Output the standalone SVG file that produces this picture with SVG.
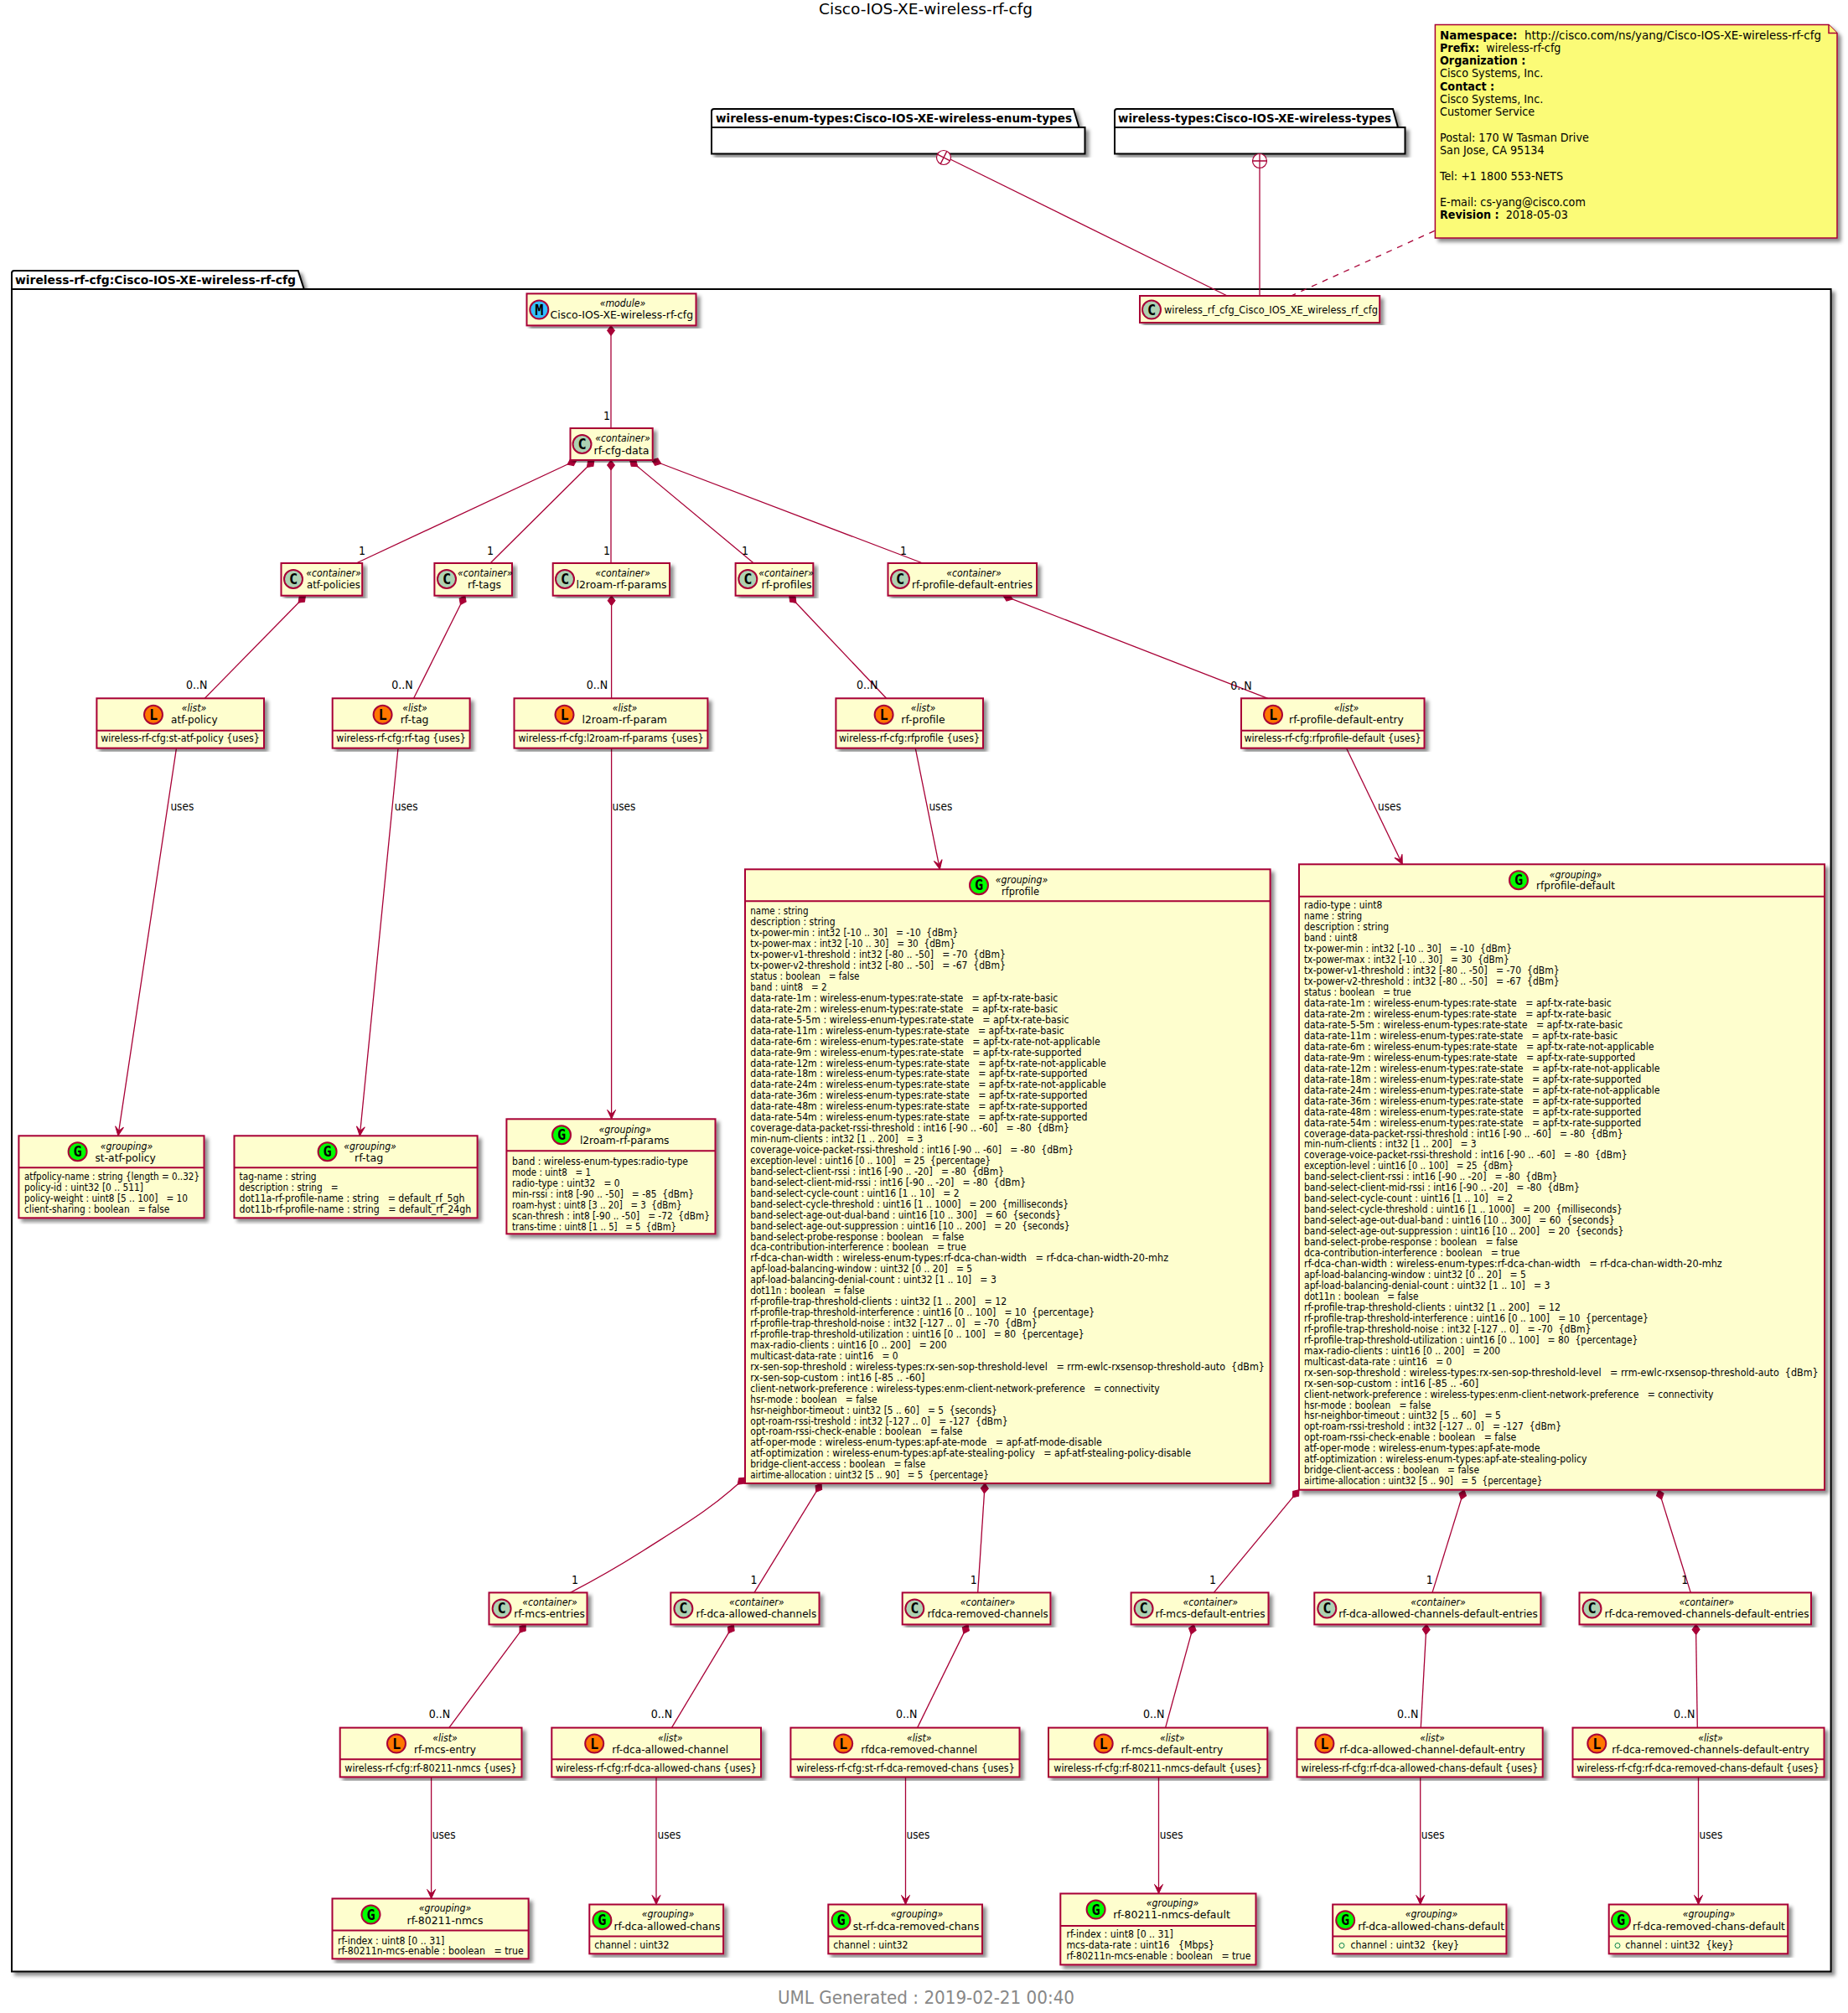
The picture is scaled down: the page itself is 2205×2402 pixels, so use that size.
<svg xmlns="http://www.w3.org/2000/svg" width="2205" height="2402" viewBox="0 0 2205 2402">
<style>
text{font-family:"DejaVu Sans Condensed","DejaVu Sans",sans-serif;font-stretch:condensed;fill:#000;white-space:pre}
.b{fill:#FEFECE;stroke:#A80036;stroke-width:2;filter:url(#sh)}
.d{stroke:#A80036;stroke-width:2;fill:none}
.e{stroke:#A80036;stroke-width:1.3}
.C{fill:#ADD1B2}.M{fill:#33C0FF}.L{fill:#FF7700}.G{fill:#00FF00}
.l{font-size:17px;font-weight:bold;text-anchor:middle;font-family:"DejaVu Sans Mono",monospace;font-stretch:normal}
.st{font-size:12.2px;font-style:italic;text-anchor:middle}
.nm{font-size:13px;text-anchor:middle}
.f{font-size:12.2px}
.fc{font-size:12.35px;text-anchor:middle}
.lab{font-size:13.5px}
.m{font-size:14px;text-anchor:middle}
.note{font-size:14.2px}
.bd{font-weight:bold}
.pk{fill:#fff;stroke:#000;stroke-width:2;filter:url(#sh)}
.pl{stroke:#000;stroke-width:2;fill:none}
.pt{font-size:14.5px;font-weight:bold}
.c{fill:none;stroke:#A80036;stroke-width:1.3}
.u{marker-end:url(#arr)}
.h{marker-start:url(#dia)}
.t{fill:#fff;stroke:#A80036;stroke-width:1.2}
</style>
<defs>
<filter id="sh" x="-5%" y="-5%" width="112%" height="112%"><feDropShadow dx="4" dy="4" stdDeviation="2" flood-color="#000" flood-opacity="0.45"/></filter>
<marker id="arr" markerUnits="userSpaceOnUse" orient="auto" markerWidth="14" markerHeight="14" refX="0" refY="0" overflow="visible"><path d="M0,0 L-11,-5 L-6,0 L-11,5 Z" fill="#A80036" stroke="#A80036" stroke-width="1"/></marker>
<marker id="dia" markerUnits="userSpaceOnUse" orient="auto" markerWidth="14" markerHeight="14" refX="0" refY="0" overflow="visible"><path d="M0,0 L6,-4.5 L12,0 L6,4.5 Z" fill="#A80036" stroke="#A80036" stroke-width="1"/></marker>
</defs>
<rect width="2205" height="2402" fill="#fff"/>
<text id="title" x="977" y="16.5" font-size="18.5" textLength="255" lengthAdjust="spacingAndGlyphs">Cisco-IOS-XE-wireless-rf-cfg</text>

<g id="pkg-enum"><path class="pk" d="M849,152 L849,133 Q849,130 852,130 L1281,130 L1287.5,152 L1294.5,152 L1294.5,183.5 L849,183.5 Z"/><path class="pl" d="M849,152 L1287.5,152"/><text class="pt" x="854" y="146" textLength="425" lengthAdjust="spacingAndGlyphs">wireless-enum-types:Cisco-IOS-XE-wireless-enum-types</text></g>
<g id="pkg-types"><path class="pk" d="M1330,152 L1330,133 Q1330,130 1333,130 L1662,130 L1668,152 L1676.5,152 L1676.5,183.5 L1330,183.5 Z"/><path class="pl" d="M1330,152 L1668,152"/><text class="pt" x="1334" y="146" textLength="326" lengthAdjust="spacingAndGlyphs">wireless-types:Cisco-IOS-XE-wireless-types</text></g>
<g id="pkg-main"><path class="pk" d="M14,345 L14,326 Q14,323 17,323 L355.7,323 L362.7,345 L2184.6,345 L2184.6,2352.5 L14,2352.5 Z"/><path class="pl" d="M14,345 L362.7,345"/><text class="pt" x="18" y="338.5" textLength="335" lengthAdjust="spacingAndGlyphs">wireless-rf-cfg:Cisco-IOS-XE-wireless-rf-cfg</text></g>

<g id="note"><path d="M1712.4,29.5 L2182,29.5 L2192,39.5 L2192,284 L1712.4,284 Z" fill="#FBFB77" stroke="#A80036" stroke-width="1.5" filter="url(#sh)"/><path d="M2182,29.5 L2182,39.5 L2192,39.5" fill="#FBFB77" stroke="#A80036" stroke-width="1.5"/>
<text class="note" x="1718" y="46.5" textLength="455" lengthAdjust="spacingAndGlyphs"><tspan class="bd">Namespace:</tspan>  http://cisco.com/ns/yang/Cisco-IOS-XE-wireless-rf-cfg</text>
<text class="note" x="1718" y="61.6"><tspan class="bd">Prefix:</tspan>  wireless-rf-cfg</text>
<text class="note bd" x="1718" y="76.8">Organization :</text>
<text class="note" x="1718" y="92.4">Cisco Systems, Inc.</text>
<text class="note bd" x="1718" y="107.6">Contact :</text>
<text class="note" x="1718" y="122.8">Cisco Systems, Inc.</text>
<text class="note" x="1718" y="138.4">Customer Service</text>
<text class="note" x="1718" y="168.7">Postal: 170 W Tasman Drive</text>
<text class="note" x="1718" y="184.4">San Jose, CA 95134</text>
<text class="note" x="1718" y="214.7">Tel: +1 1800 553-NETS</text>
<text class="note" x="1718" y="245.5">E-mail: cs-yang@cisco.com</text>
<text class="note" x="1718" y="260.7"><tspan class="bd">Revision :</tspan>  2018-05-03</text>
</g>

<g id="connectors">
<line class="e" x1="1133.8" y1="190" x2="1464.3" y2="353"/>
<circle class="t" cx="1126" cy="188" r="8.5"/><path class="e" d="M1118.4,184.2 L1133.6,191.8 M1122.2,195.6 L1129.8,180.4" fill="none"/>
<line class="e" x1="1503" y1="200.5" x2="1503" y2="353"/>
<circle class="t" cx="1503" cy="192" r="8.5"/><path class="e" d="M1494.5,192 L1511.5,192 M1503,183.5 L1503,200.5" fill="none"/>
<line class="e" x1="1711.7" y1="275.4" x2="1540.5" y2="353" stroke-dasharray="7,7"/>

<line class="e h" x1="729" y1="388.4" x2="729" y2="511"/>
<line class="e h" x1="688" y1="549" x2="425" y2="672"/>
<line class="e h" x1="709" y1="549" x2="585" y2="672"/>
<line class="e h" x1="729" y1="549" x2="729" y2="672"/>
<line class="e h" x1="751.5" y1="549" x2="899.3" y2="672"/>
<line class="e h" x1="777.6" y1="549" x2="1101" y2="672"/>
<line class="e h" x1="364.5" y1="710.7" x2="244.3" y2="833.3"/>
<line class="e h" x1="554.8" y1="710.7" x2="493.6" y2="833.3"/>
<line class="e h" x1="729.6" y1="710.7" x2="729.6" y2="833.3"/>
<line class="e h" x1="941.7" y1="710.7" x2="1057.6" y2="833.3"/>
<line class="e h" x1="1197" y1="710.7" x2="1512.7" y2="833.3"/>
<line class="e u" x1="210.5" y1="892.7" x2="140.9" y2="1355.3"/>
<line class="e u" x1="475" y1="892.7" x2="429.3" y2="1355.3"/>
<line class="e u" x1="729.6" y1="892.7" x2="729.6" y2="1335.3"/>
<line class="e u" x1="1092.2" y1="892.7" x2="1121.4" y2="1037.3"/>
<line class="e u" x1="1606.5" y1="892.7" x2="1673.3" y2="1031.3"/>
<path class="c h" d="M889,1763 C850,1800 815,1820 768,1850 C740,1868 710,1885 680.5,1900.4"/>
<line class="e h" x1="980" y1="1770" x2="900" y2="1900.4"/>
<line class="e h" x1="1175.2" y1="1770" x2="1166.7" y2="1900.4"/>
<line class="e h" x1="1550" y1="1777.7" x2="1448.3" y2="1900.4"/>
<line class="e h" x1="1747" y1="1777.7" x2="1709" y2="1900.4"/>
<line class="e h" x1="1979" y1="1777.7" x2="2017.3" y2="1900.4"/>
<line class="e h" x1="627.2" y1="1938.4" x2="535.8" y2="2061.6"/>
<line class="e h" x1="875.4" y1="1938.4" x2="801.4" y2="2061.6"/>
<line class="e h" x1="1155" y1="1938.4" x2="1094.6" y2="2061.6"/>
<line class="e h" x1="1424.4" y1="1938.4" x2="1390.6" y2="2061.6"/>
<line class="e h" x1="1702" y1="1938.4" x2="1695.3" y2="2061.6"/>
<line class="e h" x1="2023.5" y1="1938.4" x2="2025.3" y2="2061.6"/>
<line class="e u" x1="514.6" y1="2120.4" x2="514.6" y2="2265.5"/>
<line class="e u" x1="783" y1="2120.4" x2="783" y2="2272.5"/>
<line class="e u" x1="1080.5" y1="2120.4" x2="1080.5" y2="2272.5"/>
<line class="e u" x1="1382.5" y1="2120.4" x2="1382.5" y2="2259.5"/>
<line class="e u" x1="1694.7" y1="2120.4" x2="1694.7" y2="2272.5"/>
<line class="e u" x1="2026.5" y1="2120.4" x2="2026.5" y2="2272.5"/>

<text class="m" x="724" y="501">1</text><text class="m" x="432" y="661.6">1</text><text class="m" x="585" y="661.6">1</text><text class="m" x="724" y="661.6">1</text><text class="m" x="889" y="661.6">1</text><text class="m" x="1078" y="661.6">1</text>
<text class="m" x="234.7" y="821.7">0..N</text><text class="m" x="480" y="821.7">0..N</text><text class="m" x="712.4" y="821.7">0..N</text><text class="m" x="1034.6" y="821.7">0..N</text><text class="m" x="1481" y="822.5">0..N</text>
<text class="lab" x="203.4" y="966.7">uses</text><text class="lab" x="470.7" y="966.7">uses</text><text class="lab" x="730.6" y="966.7">uses</text><text class="lab" x="1108.4" y="966.7">uses</text><text class="lab" x="1644" y="966.7">uses</text>
<text class="m" x="686" y="1889.8">1</text><text class="m" x="899.5" y="1889.8">1</text><text class="m" x="1161.8" y="1889.8">1</text><text class="m" x="1447" y="1889.8">1</text><text class="m" x="1705.7" y="1889.8">1</text><text class="m" x="2010.3" y="1889.8">1</text>
<text class="m" x="524.4" y="2049.6">0..N</text><text class="m" x="789.4" y="2049.6">0..N</text><text class="m" x="1081.6" y="2049.6">0..N</text><text class="m" x="1376.7" y="2049.6">0..N</text><text class="m" x="1679.7" y="2049.6">0..N</text><text class="m" x="2009.7" y="2049.6">0..N</text>
<text class="lab" x="515.7" y="2194.4">uses</text><text class="lab" x="784.5" y="2194.4">uses</text><text class="lab" x="1081.6" y="2194.4">uses</text><text class="lab" x="1383.7" y="2194.4">uses</text><text class="lab" x="1695.7" y="2194.4">uses</text><text class="lab" x="2027.6" y="2194.4">uses</text>
</g>

<g id="n-module"><rect class="b" x="628.5" y="350.4" width="202" height="38"/><ellipse class="M d" cx="643.3" cy="369.6" rx="11" ry="11"/><text class="l" x="643.3" y="375.6">M</text><text class="st" x="743" y="366">«module»</text><text class="nm" x="741.8" y="380.4" textLength="170.5" lengthAdjust="spacingAndGlyphs">Cisco-IOS-XE-wireless-rf-cfg</text></g>
<g id="n-class"><rect class="b" x="1360" y="353" width="286.2" height="32"/><ellipse class="C d" cx="1374" cy="369.6" rx="11" ry="11"/><text class="l" x="1374" y="375.6">C</text><text class="nm" x="1516.5" y="373.5" textLength="255" lengthAdjust="spacingAndGlyphs">wireless_rf_cfg_Cisco_IOS_XE_wireless_rf_cfg</text></g>
<g id="n-rf-cfg-data"><rect class="b" x="680.5" y="511" width="98.2" height="38"/><ellipse class="C d" cx="694.5" cy="530" rx="11" ry="11"/><text class="l" x="694.5" y="536">C</text><text class="st" x="743" y="527">«container»</text><text class="nm" x="741.5" y="541.5" textLength="66" lengthAdjust="spacingAndGlyphs">rf-cfg-data</text></g>

<g id="n-atf-policies"><rect class="b" x="335.5" y="672" width="96.7" height="38.7"/><ellipse class="C d" cx="350" cy="691" rx="11" ry="11"/><text class="l" x="350" y="697">C</text><text class="st" x="398" y="687.7">«container»</text><text class="nm" x="398" y="702" textLength="64" lengthAdjust="spacingAndGlyphs">atf-policies</text></g>
<g id="n-rf-tags"><rect class="b" x="518.4" y="672" width="92.6" height="38.7"/><ellipse class="C d" cx="533" cy="691" rx="11" ry="11"/><text class="l" x="533" y="697">C</text><text class="st" x="578.7" y="687.7">«container»</text><text class="nm" x="578" y="702" textLength="40" lengthAdjust="spacingAndGlyphs">rf-tags</text></g>
<g id="n-l2roam-rf-params"><rect class="b" x="659.7" y="672" width="139.3" height="38.7"/><ellipse class="C d" cx="674" cy="691" rx="11" ry="11"/><text class="l" x="674" y="697">C</text><text class="st" x="743" y="687.7">«container»</text><text class="nm" x="741.5" y="702" textLength="108" lengthAdjust="spacingAndGlyphs">l2roam-rf-params</text></g>
<g id="n-rf-profiles"><rect class="b" x="877.6" y="672" width="92.7" height="38.7"/><ellipse class="C d" cx="892.3" cy="691" rx="11" ry="11"/><text class="l" x="892.3" y="697">C</text><text class="st" x="938" y="687.7">«container»</text><text class="nm" x="938.6" y="702" textLength="60.3" lengthAdjust="spacingAndGlyphs">rf-profiles</text></g>
<g id="n-rf-profile-default-entries"><rect class="b" x="1059.5" y="672" width="177.5" height="38.7"/><ellipse class="C d" cx="1074" cy="691" rx="11" ry="11"/><text class="l" x="1074" y="697">C</text><text class="st" x="1162" y="687.7">«container»</text><text class="nm" x="1160" y="702" textLength="144" lengthAdjust="spacingAndGlyphs">rf-profile-default-entries</text></g>

<g id="n-atf-policy"><rect class="b" x="115.4" y="833.3" width="199.6" height="59.4"/><line class="d" x1="115.4" y1="871.7" x2="315" y2="871.7"/><ellipse class="L d" cx="183" cy="852.7" rx="11" ry="11"/><text class="l" x="183" y="858.7">L</text><text class="st" x="231.5" y="849">«list»</text><text class="nm" x="231.8" y="863.3" textLength="55.5" lengthAdjust="spacingAndGlyphs">atf-policy</text><text class="fc" x="215" y="885">wireless-rf-cfg:st-atf-policy {uses}</text></g>
<g id="n-rf-tag-list"><rect class="b" x="396.7" y="833.3" width="163.9" height="59.4"/><line class="d" x1="396.7" y1="871.7" x2="560.6" y2="871.7"/><ellipse class="L d" cx="456.6" cy="852.7" rx="11" ry="11"/><text class="l" x="456.6" y="858.7">L</text><text class="st" x="495" y="849">«list»</text><text class="nm" x="494.6" y="863.3" textLength="33.8" lengthAdjust="spacingAndGlyphs">rf-tag</text><text class="fc" x="478.6" y="885">wireless-rf-cfg:rf-tag {uses}</text></g>
<g id="n-l2roam-rf-param"><rect class="b" x="613.5" y="833.3" width="230.9" height="59.4"/><line class="d" x1="613.5" y1="871.7" x2="844.4" y2="871.7"/><ellipse class="L d" cx="673.5" cy="852.7" rx="11" ry="11"/><text class="l" x="673.5" y="858.7">L</text><text class="st" x="745.5" y="849">«list»</text><text class="nm" x="745.2" y="863.3" textLength="101.4" lengthAdjust="spacingAndGlyphs">l2roam-rf-param</text><text class="fc" x="729" y="885">wireless-rf-cfg:l2roam-rf-params {uses}</text></g>
<g id="n-rf-profile"><rect class="b" x="997.4" y="833.3" width="175.6" height="59.4"/><line class="d" x1="997.4" y1="871.7" x2="1173" y2="871.7"/><ellipse class="L d" cx="1054.6" cy="852.7" rx="11" ry="11"/><text class="l" x="1054.6" y="858.7">L</text><text class="st" x="1101.5" y="849">«list»</text><text class="nm" x="1101.5" y="863.3" textLength="52.3" lengthAdjust="spacingAndGlyphs">rf-profile</text><text class="fc" x="1085" y="885">wireless-rf-cfg:rfprofile {uses}</text></g>
<g id="n-rf-profile-default-entry"><rect class="b" x="1481" y="833.3" width="218.5" height="59.4"/><line class="d" x1="1481" y1="871.7" x2="1699.5" y2="871.7"/><ellipse class="L d" cx="1519" cy="852.7" rx="11" ry="11"/><text class="l" x="1519" y="858.7">L</text><text class="st" x="1606.5" y="849">«list»</text><text class="nm" x="1606.5" y="863.3" textLength="136.8" lengthAdjust="spacingAndGlyphs">rf-profile-default-entry</text><text class="fc" x="1590" y="885">wireless-rf-cfg:rfprofile-default {uses}</text></g>

<g id="n-st-atf-policy"><rect class="b" x="22.4" y="1355.3" width="221.1" height="98"/><line class="d" x1="22.4" y1="1393.3" x2="243.5" y2="1393.3"/><ellipse class="G d" cx="92.6" cy="1374.3" rx="11" ry="11"/><text class="l" x="92.6" y="1380.3">G</text><text class="st" x="151" y="1371.7">«grouping»</text><text class="nm" x="149.6" y="1385.7" textLength="72.4" lengthAdjust="spacingAndGlyphs">st-atf-policy</text>
<text class="f" x="29" y="1408.3" textLength="209" lengthAdjust="spacingAndGlyphs">atfpolicy-name : string {length = 0..32}</text><text class="f" x="29" y="1421.3" textLength="142" lengthAdjust="spacingAndGlyphs">policy-id : uint32 [0 .. 511]</text><text class="f" x="29" y="1434.3" textLength="195" lengthAdjust="spacingAndGlyphs">policy-weight : uint8 [5 .. 100]   = 10</text><text class="f" x="29" y="1447.3" textLength="173.4" lengthAdjust="spacingAndGlyphs">client-sharing : boolean   = false</text></g>
<g id="n-rf-tag-grouping"><rect class="b" x="279.5" y="1355.3" width="290.1" height="98"/><line class="d" x1="279.5" y1="1393.3" x2="569.6" y2="1393.3"/><ellipse class="G d" cx="390.6" cy="1374.3" rx="11" ry="11"/><text class="l" x="390.6" y="1380.3">G</text><text class="st" x="441.6" y="1371.7">«grouping»</text><text class="nm" x="440.2" y="1385.7" textLength="34.2" lengthAdjust="spacingAndGlyphs">rf-tag</text>
<text class="f" x="285.6" y="1408.3" textLength="92" lengthAdjust="spacingAndGlyphs">tag-name : string</text><text class="f" x="285.6" y="1421.3" textLength="118" lengthAdjust="spacingAndGlyphs">description : string   =</text><text class="f" x="285.6" y="1434.3" textLength="268.8" lengthAdjust="spacingAndGlyphs">dot11a-rf-profile-name : string   = default_rf_5gh</text><text class="f" x="285.6" y="1447.3" textLength="276.6" lengthAdjust="spacingAndGlyphs">dot11b-rf-profile-name : string   = default_rf_24gh</text></g>
<g id="n-l2roam-rf-params-grouping"><rect class="b" x="604.4" y="1335.3" width="249.1" height="137"/><line class="d" x1="604.4" y1="1373.3" x2="853.5" y2="1373.3"/><ellipse class="G d" cx="670" cy="1354.3" rx="11" ry="11"/><text class="l" x="670" y="1360.3">G</text><text class="st" x="745.8" y="1351.7">«grouping»</text><text class="nm" x="745.2" y="1365.3" textLength="106.6" lengthAdjust="spacingAndGlyphs">l2roam-rf-params</text>
<text class="f" x="611" y="1389.7" textLength="210" lengthAdjust="spacingAndGlyphs">band : wireless-enum-types:radio-type</text><text class="f" x="611" y="1402.7" textLength="94" lengthAdjust="spacingAndGlyphs">mode : uint8   = 1</text><text class="f" x="611" y="1415.7" textLength="128.5" lengthAdjust="spacingAndGlyphs">radio-type : uint32   = 0</text><text class="f" x="611" y="1428.7" textLength="217" lengthAdjust="spacingAndGlyphs">min-rssi : int8 [-90 .. -50]   = -85  {dBm}</text><text class="f" x="611" y="1441.7" textLength="202.6" lengthAdjust="spacingAndGlyphs">roam-hyst : uint8 [3 .. 20]   = 3  {dBm}</text><text class="f" x="611" y="1454.7" textLength="236" lengthAdjust="spacingAndGlyphs">scan-thresh : int8 [-90 .. -50]   = -72  {dBm}</text><text class="f" x="611" y="1467.7" textLength="196" lengthAdjust="spacingAndGlyphs">trans-time : uint8 [1 .. 5]   = 5  {dBm}</text></g>

<g id="n-rfprofile"><rect class="b" x="889" y="1037.3" width="626.6" height="732.7"/><line class="d" x1="889" y1="1075.3" x2="1515.6" y2="1075.3"/><ellipse class="G d" cx="1168" cy="1056.3" rx="11" ry="11"/><text class="l" x="1168" y="1062.3">G</text><text class="st" x="1219" y="1053.7">«grouping»</text><text class="nm" x="1217.5" y="1067.7" textLength="45" lengthAdjust="spacingAndGlyphs">rfprofile</text>
<text class="f" x="895.3" y="1091.3" textLength="69.2" lengthAdjust="spacingAndGlyphs">name : string</text>
<text class="f" x="895.3" y="1104.2" textLength="101.2" lengthAdjust="spacingAndGlyphs">description : string</text>
<text class="f" x="895.3" y="1117.2" textLength="247.9" lengthAdjust="spacingAndGlyphs">tx-power-min : int32 [-10 .. 30]   = -10  {dBm}</text>
<text class="f" x="895.3" y="1130.1" textLength="244.6" lengthAdjust="spacingAndGlyphs">tx-power-max : int32 [-10 .. 30]   = 30  {dBm}</text>
<text class="f" x="895.3" y="1143.1" textLength="304.7" lengthAdjust="spacingAndGlyphs">tx-power-v1-threshold : int32 [-80 .. -50]   = -70  {dBm}</text>
<text class="f" x="895.3" y="1156" textLength="304.7" lengthAdjust="spacingAndGlyphs">tx-power-v2-threshold : int32 [-80 .. -50]   = -67  {dBm}</text>
<text class="f" x="895.3" y="1168.9" textLength="130.2" lengthAdjust="spacingAndGlyphs">status : boolean   = false</text>
<text class="f" x="895.3" y="1181.9" textLength="91.2" lengthAdjust="spacingAndGlyphs">band : uint8   = 2</text>
<text class="f" x="895.3" y="1194.8" textLength="366.9" lengthAdjust="spacingAndGlyphs">data-rate-1m : wireless-enum-types:rate-state   = apf-tx-rate-basic</text>
<text class="f" x="895.3" y="1207.8" textLength="366.9" lengthAdjust="spacingAndGlyphs">data-rate-2m : wireless-enum-types:rate-state   = apf-tx-rate-basic</text>
<text class="f" x="895.3" y="1220.7" textLength="380.2" lengthAdjust="spacingAndGlyphs">data-rate-5-5m : wireless-enum-types:rate-state   = apf-tx-rate-basic</text>
<text class="f" x="895.3" y="1233.6" textLength="374.4" lengthAdjust="spacingAndGlyphs">data-rate-11m : wireless-enum-types:rate-state   = apf-tx-rate-basic</text>
<text class="f" x="895.3" y="1246.6" textLength="417.5" lengthAdjust="spacingAndGlyphs">data-rate-6m : wireless-enum-types:rate-state   = apf-tx-rate-not-applicable</text>
<text class="f" x="895.3" y="1259.5" textLength="395.1" lengthAdjust="spacingAndGlyphs">data-rate-9m : wireless-enum-types:rate-state   = apf-tx-rate-supported</text>
<text class="f" x="895.3" y="1272.5" textLength="424.5" lengthAdjust="spacingAndGlyphs">data-rate-12m : wireless-enum-types:rate-state   = apf-tx-rate-not-applicable</text>
<text class="f" x="895.3" y="1285.4" textLength="402.2" lengthAdjust="spacingAndGlyphs">data-rate-18m : wireless-enum-types:rate-state   = apf-tx-rate-supported</text>
<text class="f" x="895.3" y="1298.3" textLength="424.5" lengthAdjust="spacingAndGlyphs">data-rate-24m : wireless-enum-types:rate-state   = apf-tx-rate-not-applicable</text>
<text class="f" x="895.3" y="1311.3" textLength="402.2" lengthAdjust="spacingAndGlyphs">data-rate-36m : wireless-enum-types:rate-state   = apf-tx-rate-supported</text>
<text class="f" x="895.3" y="1324.2" textLength="402.2" lengthAdjust="spacingAndGlyphs">data-rate-48m : wireless-enum-types:rate-state   = apf-tx-rate-supported</text>
<text class="f" x="895.3" y="1337.2" textLength="402.2" lengthAdjust="spacingAndGlyphs">data-rate-54m : wireless-enum-types:rate-state   = apf-tx-rate-supported</text>
<text class="f" x="895.3" y="1350.1" textLength="380.6" lengthAdjust="spacingAndGlyphs">coverage-data-packet-rssi-threshold : int16 [-90 .. -60]   = -80  {dBm}</text>
<text class="f" x="895.3" y="1363" textLength="205.6" lengthAdjust="spacingAndGlyphs">min-num-clients : int32 [1 .. 200]   = 3</text>
<text class="f" x="895.3" y="1376" textLength="385.6" lengthAdjust="spacingAndGlyphs">coverage-voice-packet-rssi-threshold : int16 [-90 .. -60]   = -80  {dBm}</text>
<text class="f" x="895.3" y="1388.9" textLength="286.9" lengthAdjust="spacingAndGlyphs">exception-level : uint16 [0 .. 100]   = 25  {percentage}</text>
<text class="f" x="895.3" y="1401.9" textLength="302.7" lengthAdjust="spacingAndGlyphs">band-select-client-rssi : int16 [-90 .. -20]   = -80  {dBm}</text>
<text class="f" x="895.3" y="1414.8" textLength="328.8" lengthAdjust="spacingAndGlyphs">band-select-client-mid-rssi : int16 [-90 .. -20]   = -80  {dBm}</text>
<text class="f" x="895.3" y="1427.7" textLength="249.2" lengthAdjust="spacingAndGlyphs">band-select-cycle-count : uint16 [1 .. 10]   = 2</text>
<text class="f" x="895.3" y="1440.7" textLength="379.8" lengthAdjust="spacingAndGlyphs">band-select-cycle-threshold : uint16 [1 .. 1000]   = 200  {milliseconds}</text>
<text class="f" x="895.3" y="1453.6" textLength="370.6" lengthAdjust="spacingAndGlyphs">band-select-age-out-dual-band : uint16 [10 .. 300]   = 60  {seconds}</text>
<text class="f" x="895.3" y="1466.6" textLength="381.4" lengthAdjust="spacingAndGlyphs">band-select-age-out-suppression : uint16 [10 .. 200]   = 20  {seconds}</text>
<text class="f" x="895.3" y="1479.5" textLength="255" lengthAdjust="spacingAndGlyphs">band-select-probe-response : boolean   = false</text>
<text class="f" x="895.3" y="1492.4" textLength="257.5" lengthAdjust="spacingAndGlyphs">dca-contribution-interference : boolean   = true</text>
<text class="f" x="895.3" y="1505.4" textLength="498.8" lengthAdjust="spacingAndGlyphs">rf-dca-chan-width : wireless-enum-types:rf-dca-chan-width   = rf-dca-chan-width-20-mhz</text>
<text class="f" x="895.3" y="1518.3" textLength="264.9" lengthAdjust="spacingAndGlyphs">apf-load-balancing-window : uint32 [0 .. 20]   = 5</text>
<text class="f" x="895.3" y="1531.3" textLength="293.5" lengthAdjust="spacingAndGlyphs">apf-load-balancing-denial-count : uint32 [1 .. 10]   = 3</text>
<text class="f" x="895.3" y="1544.2" textLength="136.4" lengthAdjust="spacingAndGlyphs">dot11n : boolean   = false</text>
<text class="f" x="895.3" y="1557.1" textLength="306" lengthAdjust="spacingAndGlyphs">rf-profile-trap-threshold-clients : uint32 [1 .. 200]   = 12</text>
<text class="f" x="895.3" y="1570.1" textLength="410.9" lengthAdjust="spacingAndGlyphs">rf-profile-trap-threshold-interference : uint16 [0 .. 100]   = 10  {percentage}</text>
<text class="f" x="895.3" y="1583" textLength="342.5" lengthAdjust="spacingAndGlyphs">rf-profile-trap-threshold-noise : int32 [-127 .. 0]   = -70  {dBm}</text>
<text class="f" x="895.3" y="1596" textLength="398.4" lengthAdjust="spacingAndGlyphs">rf-profile-trap-threshold-utilization : uint16 [0 .. 100]   = 80  {percentage}</text>
<text class="f" x="895.3" y="1608.9" textLength="234.2" lengthAdjust="spacingAndGlyphs">max-radio-clients : uint16 [0 .. 200]   = 200</text>
<text class="f" x="895.3" y="1621.8" textLength="176.2" lengthAdjust="spacingAndGlyphs">multicast-data-rate : uint16   = 0</text>
<text class="f" x="895.3" y="1634.8" textLength="613.6" lengthAdjust="spacingAndGlyphs">rx-sen-sop-threshold : wireless-types:rx-sen-sop-threshold-level   = rrm-ewlc-rxsensop-threshold-auto  {dBm}</text>
<text class="f" x="895.3" y="1647.7" textLength="208.1" lengthAdjust="spacingAndGlyphs">rx-sen-sop-custom : int16 [-85 .. -60]</text>
<text class="f" x="895.3" y="1660.7" textLength="488.4" lengthAdjust="spacingAndGlyphs">client-network-preference : wireless-types:enm-client-network-preference   = connectivity</text>
<text class="f" x="895.3" y="1673.6" textLength="151.3" lengthAdjust="spacingAndGlyphs">hsr-mode : boolean   = false</text>
<text class="f" x="895.3" y="1686.5" textLength="294.4" lengthAdjust="spacingAndGlyphs">hsr-neighbor-timeout : uint32 [5 .. 60]   = 5  {seconds}</text>
<text class="f" x="895.3" y="1699.5" textLength="307.2" lengthAdjust="spacingAndGlyphs">opt-roam-rssi-treshold : int32 [-127 .. 0]   = -127  {dBm}</text>
<text class="f" x="895.3" y="1712.4" textLength="253.3" lengthAdjust="spacingAndGlyphs">opt-roam-rssi-check-enable : boolean   = false</text>
<text class="f" x="895.3" y="1725.4" textLength="419.6" lengthAdjust="spacingAndGlyphs">atf-oper-mode : wireless-enum-types:apf-ate-mode   = apf-atf-mode-disable</text>
<text class="f" x="895.3" y="1738.3" textLength="525.7" lengthAdjust="spacingAndGlyphs">atf-optimization : wireless-enum-types:apf-ate-stealing-policy   = apf-atf-stealing-policy-disable</text>
<text class="f" x="895.3" y="1751.2" textLength="209" lengthAdjust="spacingAndGlyphs">bridge-client-access : boolean   = false</text>
<text class="f" x="895.3" y="1764.2" textLength="284.4" lengthAdjust="spacingAndGlyphs">airtime-allocation : uint32 [5 .. 90]   = 5  {percentage}</text>
</g>

<g id="n-rfprofile-default"><rect class="b" x="1550" y="1031.3" width="627" height="746.4"/><line class="d" x1="1550" y1="1069.7" x2="2177" y2="1069.7"/><ellipse class="G d" cx="1812" cy="1050.3" rx="11" ry="11"/><text class="l" x="1812" y="1056.3">G</text><text class="st" x="1880" y="1047.7">«grouping»</text><text class="nm" x="1880" y="1061.3" textLength="93.8" lengthAdjust="spacingAndGlyphs">rfprofile-default</text>
<text class="f" x="1556" y="1084.3" textLength="93.3" lengthAdjust="spacingAndGlyphs">radio-type : uint8</text>
<text class="f" x="1556" y="1097.3" textLength="69.2" lengthAdjust="spacingAndGlyphs">name : string</text>
<text class="f" x="1556" y="1110.2" textLength="101.2" lengthAdjust="spacingAndGlyphs">description : string</text>
<text class="f" x="1556" y="1123.2" textLength="63.6" lengthAdjust="spacingAndGlyphs">band : uint8</text>
<text class="f" x="1556" y="1136.1" textLength="247.9" lengthAdjust="spacingAndGlyphs">tx-power-min : int32 [-10 .. 30]   = -10  {dBm}</text>
<text class="f" x="1556" y="1149.1" textLength="244.6" lengthAdjust="spacingAndGlyphs">tx-power-max : int32 [-10 .. 30]   = 30  {dBm}</text>
<text class="f" x="1556" y="1162.1" textLength="304.7" lengthAdjust="spacingAndGlyphs">tx-power-v1-threshold : int32 [-80 .. -50]   = -70  {dBm}</text>
<text class="f" x="1556" y="1175" textLength="304.7" lengthAdjust="spacingAndGlyphs">tx-power-v2-threshold : int32 [-80 .. -50]   = -67  {dBm}</text>
<text class="f" x="1556" y="1188" textLength="127.7" lengthAdjust="spacingAndGlyphs">status : boolean   = true</text>
<text class="f" x="1556" y="1200.9" textLength="366.9" lengthAdjust="spacingAndGlyphs">data-rate-1m : wireless-enum-types:rate-state   = apf-tx-rate-basic</text>
<text class="f" x="1556" y="1213.9" textLength="366.9" lengthAdjust="spacingAndGlyphs">data-rate-2m : wireless-enum-types:rate-state   = apf-tx-rate-basic</text>
<text class="f" x="1556" y="1226.9" textLength="380.2" lengthAdjust="spacingAndGlyphs">data-rate-5-5m : wireless-enum-types:rate-state   = apf-tx-rate-basic</text>
<text class="f" x="1556" y="1239.8" textLength="374.4" lengthAdjust="spacingAndGlyphs">data-rate-11m : wireless-enum-types:rate-state   = apf-tx-rate-basic</text>
<text class="f" x="1556" y="1252.8" textLength="417.5" lengthAdjust="spacingAndGlyphs">data-rate-6m : wireless-enum-types:rate-state   = apf-tx-rate-not-applicable</text>
<text class="f" x="1556" y="1265.7" textLength="395.1" lengthAdjust="spacingAndGlyphs">data-rate-9m : wireless-enum-types:rate-state   = apf-tx-rate-supported</text>
<text class="f" x="1556" y="1278.7" textLength="424.5" lengthAdjust="spacingAndGlyphs">data-rate-12m : wireless-enum-types:rate-state   = apf-tx-rate-not-applicable</text>
<text class="f" x="1556" y="1291.7" textLength="402.2" lengthAdjust="spacingAndGlyphs">data-rate-18m : wireless-enum-types:rate-state   = apf-tx-rate-supported</text>
<text class="f" x="1556" y="1304.6" textLength="424.5" lengthAdjust="spacingAndGlyphs">data-rate-24m : wireless-enum-types:rate-state   = apf-tx-rate-not-applicable</text>
<text class="f" x="1556" y="1317.6" textLength="402.2" lengthAdjust="spacingAndGlyphs">data-rate-36m : wireless-enum-types:rate-state   = apf-tx-rate-supported</text>
<text class="f" x="1556" y="1330.5" textLength="402.2" lengthAdjust="spacingAndGlyphs">data-rate-48m : wireless-enum-types:rate-state   = apf-tx-rate-supported</text>
<text class="f" x="1556" y="1343.5" textLength="402.2" lengthAdjust="spacingAndGlyphs">data-rate-54m : wireless-enum-types:rate-state   = apf-tx-rate-supported</text>
<text class="f" x="1556" y="1356.5" textLength="380.6" lengthAdjust="spacingAndGlyphs">coverage-data-packet-rssi-threshold : int16 [-90 .. -60]   = -80  {dBm}</text>
<text class="f" x="1556" y="1369.4" textLength="205.6" lengthAdjust="spacingAndGlyphs">min-num-clients : int32 [1 .. 200]   = 3</text>
<text class="f" x="1556" y="1382.4" textLength="385.6" lengthAdjust="spacingAndGlyphs">coverage-voice-packet-rssi-threshold : int16 [-90 .. -60]   = -80  {dBm}</text>
<text class="f" x="1556" y="1395.3" textLength="249.8" lengthAdjust="spacingAndGlyphs">exception-level : uint16 [0 .. 100]   = 25  {dBm}</text>
<text class="f" x="1556" y="1408.3" textLength="302.7" lengthAdjust="spacingAndGlyphs">band-select-client-rssi : int16 [-90 .. -20]   = -80  {dBm}</text>
<text class="f" x="1556" y="1421.3" textLength="328.8" lengthAdjust="spacingAndGlyphs">band-select-client-mid-rssi : int16 [-90 .. -20]   = -80  {dBm}</text>
<text class="f" x="1556" y="1434.2" textLength="249.2" lengthAdjust="spacingAndGlyphs">band-select-cycle-count : uint16 [1 .. 10]   = 2</text>
<text class="f" x="1556" y="1447.2" textLength="379.8" lengthAdjust="spacingAndGlyphs">band-select-cycle-threshold : uint16 [1 .. 1000]   = 200  {milliseconds}</text>
<text class="f" x="1556" y="1460.1" textLength="370.6" lengthAdjust="spacingAndGlyphs">band-select-age-out-dual-band : uint16 [10 .. 300]   = 60  {seconds}</text>
<text class="f" x="1556" y="1473.1" textLength="381.4" lengthAdjust="spacingAndGlyphs">band-select-age-out-suppression : uint16 [10 .. 200]   = 20  {seconds}</text>
<text class="f" x="1556" y="1486.1" textLength="255" lengthAdjust="spacingAndGlyphs">band-select-probe-response : boolean   = false</text>
<text class="f" x="1556" y="1499" textLength="257.5" lengthAdjust="spacingAndGlyphs">dca-contribution-interference : boolean   = true</text>
<text class="f" x="1556" y="1512" textLength="498.8" lengthAdjust="spacingAndGlyphs">rf-dca-chan-width : wireless-enum-types:rf-dca-chan-width   = rf-dca-chan-width-20-mhz</text>
<text class="f" x="1556" y="1524.9" textLength="264.9" lengthAdjust="spacingAndGlyphs">apf-load-balancing-window : uint32 [0 .. 20]   = 5</text>
<text class="f" x="1556" y="1537.9" textLength="293.5" lengthAdjust="spacingAndGlyphs">apf-load-balancing-denial-count : uint32 [1 .. 10]   = 3</text>
<text class="f" x="1556" y="1550.9" textLength="136.4" lengthAdjust="spacingAndGlyphs">dot11n : boolean   = false</text>
<text class="f" x="1556" y="1563.8" textLength="306" lengthAdjust="spacingAndGlyphs">rf-profile-trap-threshold-clients : uint32 [1 .. 200]   = 12</text>
<text class="f" x="1556" y="1576.8" textLength="410.9" lengthAdjust="spacingAndGlyphs">rf-profile-trap-threshold-interference : uint16 [0 .. 100]   = 10  {percentage}</text>
<text class="f" x="1556" y="1589.7" textLength="342.5" lengthAdjust="spacingAndGlyphs">rf-profile-trap-threshold-noise : int32 [-127 .. 0]   = -70  {dBm}</text>
<text class="f" x="1556" y="1602.7" textLength="398.4" lengthAdjust="spacingAndGlyphs">rf-profile-trap-threshold-utilization : uint16 [0 .. 100]   = 80  {percentage}</text>
<text class="f" x="1556" y="1615.7" textLength="234.2" lengthAdjust="spacingAndGlyphs">max-radio-clients : uint16 [0 .. 200]   = 200</text>
<text class="f" x="1556" y="1628.6" textLength="176.2" lengthAdjust="spacingAndGlyphs">multicast-data-rate : uint16   = 0</text>
<text class="f" x="1556" y="1641.6" textLength="613.6" lengthAdjust="spacingAndGlyphs">rx-sen-sop-threshold : wireless-types:rx-sen-sop-threshold-level   = rrm-ewlc-rxsensop-threshold-auto  {dBm}</text>
<text class="f" x="1556" y="1654.5" textLength="208.1" lengthAdjust="spacingAndGlyphs">rx-sen-sop-custom : int16 [-85 .. -60]</text>
<text class="f" x="1556" y="1667.5" textLength="488.4" lengthAdjust="spacingAndGlyphs">client-network-preference : wireless-types:enm-client-network-preference   = connectivity</text>
<text class="f" x="1556" y="1680.5" textLength="151.3" lengthAdjust="spacingAndGlyphs">hsr-mode : boolean   = false</text>
<text class="f" x="1556" y="1693.4" textLength="234.9" lengthAdjust="spacingAndGlyphs">hsr-neighbor-timeout : uint32 [5 .. 60]   = 5</text>
<text class="f" x="1556" y="1706.4" textLength="307.2" lengthAdjust="spacingAndGlyphs">opt-roam-rssi-treshold : int32 [-127 .. 0]   = -127  {dBm}</text>
<text class="f" x="1556" y="1719.3" textLength="253.3" lengthAdjust="spacingAndGlyphs">opt-roam-rssi-check-enable : boolean   = false</text>
<text class="f" x="1556" y="1732.3" textLength="281.6" lengthAdjust="spacingAndGlyphs">atf-oper-mode : wireless-enum-types:apf-ate-mode</text>
<text class="f" x="1556" y="1745.3" textLength="337.6" lengthAdjust="spacingAndGlyphs">atf-optimization : wireless-enum-types:apf-ate-stealing-policy</text>
<text class="f" x="1556" y="1758.2" textLength="209" lengthAdjust="spacingAndGlyphs">bridge-client-access : boolean   = false</text>
<text class="f" x="1556" y="1771.2" textLength="284.4" lengthAdjust="spacingAndGlyphs">airtime-allocation : uint32 [5 .. 90]   = 5  {percentage}</text>
</g>

<g id="n-rf-mcs-entries"><rect class="b" x="583.5" y="1900.4" width="117" height="38"/><ellipse class="C d" cx="598.6" cy="1919.4" rx="11" ry="11"/><text class="l" x="598.6" y="1925.4">C</text><text class="st" x="656" y="1916">«container»</text><text class="nm" x="655.6" y="1930.3" textLength="84.6" lengthAdjust="spacingAndGlyphs">rf-mcs-entries</text></g>
<g id="n-rf-dca-allowed-channels"><rect class="b" x="800.3" y="1900.4" width="177.2" height="38"/><ellipse class="C d" cx="815.4" cy="1919.4" rx="11" ry="11"/><text class="l" x="815.4" y="1925.4">C</text><text class="st" x="902.7" y="1916">«container»</text><text class="nm" x="902.4" y="1930.3" textLength="143.6" lengthAdjust="spacingAndGlyphs">rf-dca-allowed-channels</text></g>
<g id="n-rfdca-removed-channels"><rect class="b" x="1076.7" y="1900.4" width="176.7" height="38"/><ellipse class="C d" cx="1091.3" cy="1919.4" rx="11" ry="11"/><text class="l" x="1091.3" y="1925.4">C</text><text class="st" x="1178.6" y="1916">«container»</text><text class="nm" x="1178.6" y="1930.3" textLength="144.2" lengthAdjust="spacingAndGlyphs">rfdca-removed-channels</text></g>
<g id="n-rf-mcs-default-entries"><rect class="b" x="1349.6" y="1900.4" width="163.9" height="38"/><ellipse class="C d" cx="1364.6" cy="1919.4" rx="11" ry="11"/><text class="l" x="1364.6" y="1925.4">C</text><text class="st" x="1444.3" y="1916">«container»</text><text class="nm" x="1444" y="1930.3" textLength="131" lengthAdjust="spacingAndGlyphs">rf-mcs-default-entries</text></g>
<g id="n-rf-dca-allowed-channels-default-entries"><rect class="b" x="1568.3" y="1900.4" width="270.1" height="38"/><ellipse class="C d" cx="1583.3" cy="1919.4" rx="11" ry="11"/><text class="l" x="1583.3" y="1925.4">C</text><text class="st" x="1716" y="1916">«container»</text><text class="nm" x="1716" y="1930.3" textLength="237.7" lengthAdjust="spacingAndGlyphs">rf-dca-allowed-channels-default-entries</text></g>
<g id="n-rf-dca-removed-channels-default-entries"><rect class="b" x="1884.5" y="1900.4" width="276.5" height="38"/><ellipse class="C d" cx="1899.5" cy="1919.4" rx="11" ry="11"/><text class="l" x="1899.5" y="1925.4">C</text><text class="st" x="2036.3" y="1916">«container»</text><text class="nm" x="2036.6" y="1930.3" textLength="244" lengthAdjust="spacingAndGlyphs">rf-dca-removed-channels-default-entries</text></g>

<g id="n-rf-mcs-entry"><rect class="b" x="405.7" y="2061.6" width="216.8" height="58.8"/><line class="d" x1="405.7" y1="2099.3" x2="622.5" y2="2099.3"/><ellipse class="L d" cx="473" cy="2080.6" rx="11" ry="11"/><text class="l" x="473" y="2086.6">L</text><text class="st" x="531" y="2077.5">«list»</text><text class="nm" x="531" y="2091.5" textLength="74" lengthAdjust="spacingAndGlyphs">rf-mcs-entry</text><text class="fc" x="514" y="2114">wireless-rf-cfg:rf-80211-nmcs {uses}</text></g>
<g id="n-rf-dca-allowed-channel"><rect class="b" x="658.3" y="2061.6" width="249.7" height="58.8"/><line class="d" x1="658.3" y1="2099.3" x2="908" y2="2099.3"/><ellipse class="L d" cx="709.2" cy="2080.6" rx="11" ry="11"/><text class="l" x="709.2" y="2086.6">L</text><text class="st" x="799.7" y="2077.5">«list»</text><text class="nm" x="799.7" y="2091.5" textLength="138.8" lengthAdjust="spacingAndGlyphs">rf-dca-allowed-channel</text><text class="fc" x="783" y="2114">wireless-rf-cfg:rf-dca-allowed-chans {uses}</text></g>
<g id="n-rfdca-removed-channel"><rect class="b" x="943.4" y="2061.6" width="273.1" height="58.8"/><line class="d" x1="943.4" y1="2099.3" x2="1216.5" y2="2099.3"/><ellipse class="L d" cx="1006.2" cy="2080.6" rx="11" ry="11"/><text class="l" x="1006.2" y="2086.6">L</text><text class="st" x="1096.7" y="2077.5">«list»</text><text class="nm" x="1096.7" y="2091.5" textLength="138.8" lengthAdjust="spacingAndGlyphs">rfdca-removed-channel</text><text class="fc" x="1080.5" y="2114">wireless-rf-cfg:st-rf-dca-removed-chans {uses}</text></g>
<g id="n-rf-mcs-default-entry"><rect class="b" x="1251" y="2061.6" width="261.3" height="58.8"/><line class="d" x1="1251" y1="2099.3" x2="1512.3" y2="2099.3"/><ellipse class="L d" cx="1316.7" cy="2080.6" rx="11" ry="11"/><text class="l" x="1316.7" y="2086.6">L</text><text class="st" x="1398.7" y="2077.5">«list»</text><text class="nm" x="1398.4" y="2091.5" textLength="121.8" lengthAdjust="spacingAndGlyphs">rf-mcs-default-entry</text><text class="fc" x="1381.6" y="2114">wireless-rf-cfg:rf-80211-nmcs-default {uses}</text></g>
<g id="n-rf-dca-allowed-channel-default-entry"><rect class="b" x="1547.5" y="2061.6" width="293.2" height="58.8"/><line class="d" x1="1547.5" y1="2099.3" x2="1840.7" y2="2099.3"/><ellipse class="L d" cx="1580.4" cy="2080.6" rx="11" ry="11"/><text class="l" x="1580.4" y="2086.6">L</text><text class="st" x="1709" y="2077.5">«list»</text><text class="nm" x="1709" y="2091.5" textLength="221.6" lengthAdjust="spacingAndGlyphs">rf-dca-allowed-channel-default-entry</text><text class="fc" x="1694" y="2114">wireless-rf-cfg:rf-dca-allowed-chans-default {uses}</text></g>
<g id="n-rf-dca-removed-channels-default-entry"><rect class="b" x="1876.5" y="2061.6" width="300" height="58.8"/><line class="d" x1="1876.5" y1="2099.3" x2="2176.5" y2="2099.3"/><ellipse class="L d" cx="1905.3" cy="2080.6" rx="11" ry="11"/><text class="l" x="1905.3" y="2086.6">L</text><text class="st" x="2041" y="2077.5">«list»</text><text class="nm" x="2041" y="2091.5" textLength="235.4" lengthAdjust="spacingAndGlyphs">rf-dca-removed-channels-default-entry</text><text class="fc" x="2026" y="2114">wireless-rf-cfg:rf-dca-removed-chans-default {uses}</text></g>

<g id="n-rf-80211-nmcs"><rect class="b" x="396.5" y="2265.5" width="234.1" height="71.8"/><line class="d" x1="396.5" y1="2303.5" x2="630.6" y2="2303.5"/><ellipse class="G d" cx="442.5" cy="2284.5" rx="11" ry="11"/><text class="l" x="442.5" y="2290.5">G</text><text class="st" x="531" y="2281.4">«grouping»</text><text class="nm" x="531" y="2295.5" textLength="91" lengthAdjust="spacingAndGlyphs">rf-80211-nmcs</text><text class="f" x="403" y="2319.5">rf-index : uint8 [0 .. 31]</text><text class="f" x="403" y="2332.2" textLength="221.7" lengthAdjust="spacingAndGlyphs">rf-80211n-mcs-enable : boolean   = true</text></g>
<g id="n-rf-dca-allowed-chans"><rect class="b" x="703.3" y="2272.5" width="159.8" height="58.8"/><line class="d" x1="703.3" y1="2310.5" x2="863.1" y2="2310.5"/><ellipse class="G d" cx="718.4" cy="2291.2" rx="11" ry="11"/><text class="l" x="718.4" y="2297.2">G</text><text class="st" x="797" y="2288.4">«grouping»</text><text class="nm" x="796" y="2302.5" textLength="126.8" lengthAdjust="spacingAndGlyphs">rf-dca-allowed-chans</text><text class="f" x="709.2" y="2324.6">channel : uint32</text></g>
<g id="n-st-rf-dca-removed-chans"><rect class="b" x="988.3" y="2272.5" width="183.7" height="58.8"/><line class="d" x1="988.3" y1="2310.5" x2="1172" y2="2310.5"/><ellipse class="G d" cx="1003.5" cy="2291.2" rx="11" ry="11"/><text class="l" x="1003.5" y="2297.2">G</text><text class="st" x="1094" y="2288.4">«grouping»</text><text class="nm" x="1093" y="2302.5" textLength="150.7" lengthAdjust="spacingAndGlyphs">st-rf-dca-removed-chans</text><text class="f" x="994.3" y="2324.6">channel : uint32</text></g>
<g id="n-rf-80211-nmcs-default"><rect class="b" x="1265.3" y="2259.5" width="233.2" height="84.9"/><line class="d" x1="1265.3" y1="2298" x2="1498.5" y2="2298"/><ellipse class="G d" cx="1307.6" cy="2278.5" rx="11" ry="11"/><text class="l" x="1307.6" y="2284.5">G</text><text class="st" x="1399" y="2275.4">«grouping»</text><text class="nm" x="1398" y="2289.4" textLength="139.6" lengthAdjust="spacingAndGlyphs">rf-80211-nmcs-default</text><text class="f" x="1272.4" y="2312">rf-index : uint8 [0 .. 31]</text><text class="f" x="1272.4" y="2325">mcs-data-rate : uint16   {Mbps}</text><text class="f" x="1272.4" y="2338" textLength="220" lengthAdjust="spacingAndGlyphs">rf-80211n-mcs-enable : boolean   = true</text></g>
<g id="n-rf-dca-allowed-chans-default"><rect class="b" x="1590.2" y="2272.5" width="207.2" height="58.8"/><line class="d" x1="1590.2" y1="2310.5" x2="1797.4" y2="2310.5"/><ellipse class="G d" cx="1605.2" cy="2291.2" rx="11" ry="11"/><text class="l" x="1605.2" y="2297.2">G</text><text class="st" x="1708" y="2288.4">«grouping»</text><text class="nm" x="1707.7" y="2302.5" textLength="174.8" lengthAdjust="spacingAndGlyphs">rf-dca-allowed-chans-default</text><circle cx="1601" cy="2321.5" r="3" fill="none" stroke="#038048"/><text class="f" x="1611.6" y="2324.6">channel : uint32  {key}</text></g>
<g id="n-rf-dca-removed-chans-default"><rect class="b" x="1919.7" y="2272.5" width="213.5" height="58.8"/><line class="d" x1="1919.7" y1="2310.5" x2="2133.2" y2="2310.5"/><ellipse class="G d" cx="1934" cy="2291.2" rx="11" ry="11"/><text class="l" x="1934" y="2297.2">G</text><text class="st" x="2039" y="2288.4">«grouping»</text><text class="nm" x="2039" y="2302.5" textLength="181.8" lengthAdjust="spacingAndGlyphs">rf-dca-removed-chans-default</text><circle cx="1930" cy="2321.5" r="3" fill="none" stroke="#038048"/><text class="f" x="1939.3" y="2324.6">channel : uint32  {key}</text></g>

<text id="footer" x="928" y="2390.5" font-size="20.5" style="fill:#888888" textLength="354" lengthAdjust="spacingAndGlyphs">UML Generated : 2019-02-21 00:40</text>
</svg>
